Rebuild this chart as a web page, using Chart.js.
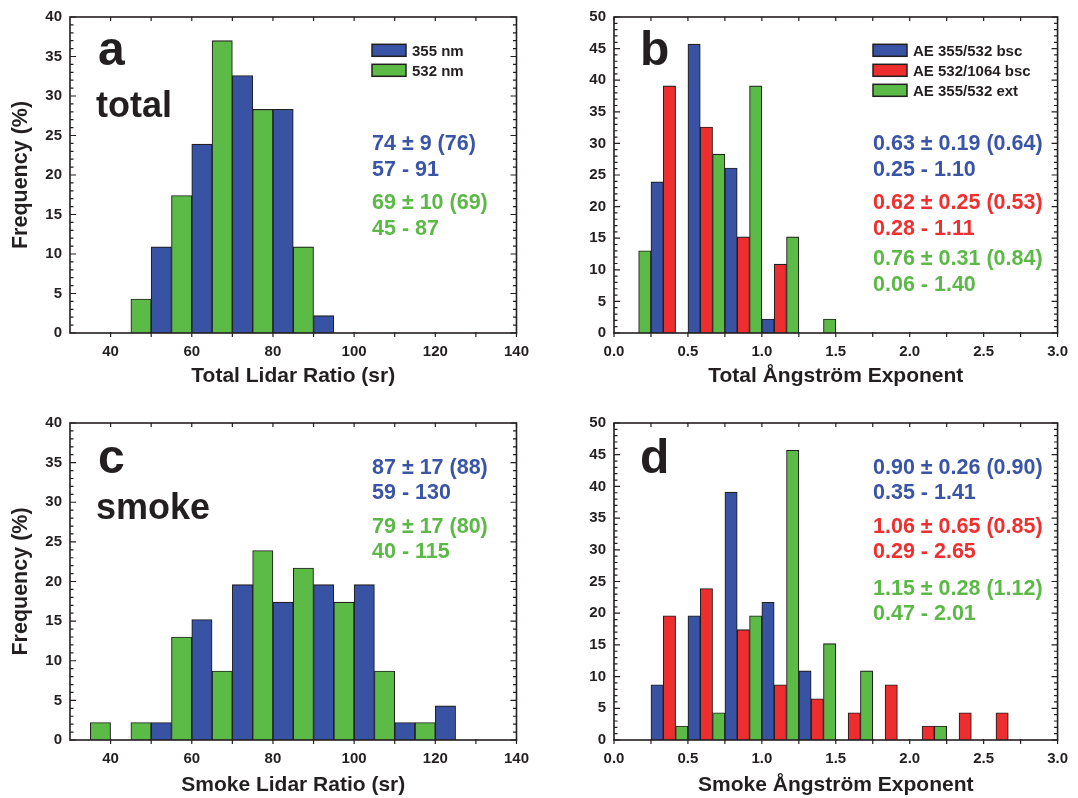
<!DOCTYPE html>
<html>
<head>
<meta charset="utf-8">
<script src="https://cdn.jsdelivr.net/npm/chart.js@4.4.1/dist/chart.umd.min.js"></script>
<style>
  body { margin: 0; background: #fff; }
  #page { position: relative; width: 1078px; height: 798px; overflow: hidden; }
  #page canvas { position: absolute; }
</style>
</head>
<body>
<div id="page">
  <canvas id="panelA" width="539" height="399" style="left:0;top:0"></canvas>
  <canvas id="panelB" width="539" height="399" style="left:539px;top:0"></canvas>
  <canvas id="panelC" width="539" height="399" style="left:0;top:399px"></canvas>
  <canvas id="panelD" width="539" height="399" style="left:539px;top:399px"></canvas>
</div>
<script>
// lidar ratio histograms, 10 sr bins (centres), frequency in %
const lrBinCenters = [35, 45, 55, 65, 75, 85, 95, 105, 115, 125];
const totalLr355 = [null, null, 10.9, 23.9, 32.6, 28.3, 2.2, null, null, null];
const totalLr532 = [null, 4.3, 17.4, 37.0, 28.3, 10.9, null, null, null, null];
const smokeLr355 = [null, null, 2.2, 15.2, 19.6, 17.4, 19.6, 19.6, 2.2, 4.3];
const smokeLr532 = [2.2, 2.2, 13.0, 8.7, 23.9, 21.7, 17.4, 8.7, 2.2, null];
const lrTicks = [40, 60, 80, 100, 120, 140];

// Angstrom exponent histograms, 0.25 bins (centres)
const aeBinCenters = [0.125, 0.375, 0.625, 0.875, 1.125, 1.375, 1.625, 1.875, 2.125, 2.375, 2.625];
const totalAeBsc355 = [null, 23.9, 45.7, 26.1, 2.2, null, null, null, null, null, null];
const totalAeBsc532 = [null, 39.1, 32.6, 15.2, 10.9, null, null, null, null, null, null];
const totalAeExt = [13.0, null, 28.3, 39.1, 15.2, 2.2, null, null, null, null, null];
const smokeAeBsc355 = [null, 8.7, 19.6, 39.1, 21.7, 10.9, null, null, null, null, null];
const smokeAeBsc532 = [null, 19.6, 23.9, 17.4, 8.7, 6.5, 4.3, 8.7, 2.2, 4.3, 4.3];
const smokeAeExt = [null, 2.2, 4.3, 19.6, 45.7, 15.2, 10.9, null, 2.2, null, null];
const aeTicks = [0, 0.5, 1, 1.5, 2, 2.5, 3];

// statistics printed in the panels: mean ± sd (median), range
const totalLrStats = [['74 ± 9 (76)', '57 - 91'], ['69 ± 10 (69)', '45 - 87']];
const smokeLrStats = [['87 ± 17 (88)', '59 - 130'], ['79 ± 17 (80)', '40 - 115']];
const totalAeStats = [['0.63 ± 0.19 (0.64)', '0.25 - 1.10'], ['0.62 ± 0.25 (0.53)', '0.28 - 1.11'], ['0.76 ± 0.31 (0.84)', '0.06 - 1.40']];
const smokeAeStats = [['0.90 ± 0.26 (0.90)', '0.35 - 1.41'], ['1.06 ± 0.65 (0.85)', '0.29 - 2.65'], ['1.15 ± 0.28 (1.12)', '0.47 - 2.01']];

const FAMILY = '"Liberation Sans", Arial, Helvetica, sans-serif';
const INK = '#231f20';
const BLUE = '#3853a4', RED = '#ee2e2e', GREEN = '#5cba47';
const TXT_BLUE = '#3a55a6', TXT_RED = '#ee3030', TXT_GREEN = '#5cb947';

Chart.defaults.font.family = FAMILY;
Chart.defaults.color = INK;

const toPoints = (xs, ys) => xs.map((x, i) => ({ x, y: ys[i] }));

const barSet = (label, color, xs, ys) => ({
  label,
  data: toPoints(xs, ys),
  backgroundColor: color,
  borderColor: INK,
  borderWidth: 1.1,
  categoryPercentage: 1,
  barPercentage: 1
});

// box round the plot area, with inward ticks on every side
const frame = {
  id: 'frame',
  afterDatasetsDraw(chart) {
    const { ctx, chartArea: a, scales: { x, y } } = chart;
    ctx.save();
    ctx.strokeStyle = INK;
    ctx.lineWidth = 1.2;
    ctx.beginPath();
    const yt = y.ticks.map(t => t.value);
    const ystep = yt[1] - yt[0];
    for (let k = 0; y.min + k * ystep / 5 <= y.max + 1e-9; k++) {
      const py = y.getPixelForValue(y.min + k * ystep / 5);
      const len = k % 5 === 0 ? 6 : 3.5;
      ctx.moveTo(a.left, py); ctx.lineTo(a.left + len, py);
      ctx.moveTo(a.right, py); ctx.lineTo(a.right - len, py);
    }
    const xt = x.ticks.map(t => t.value);
    const half = (xt[1] - xt[0]) / 2;
    let v = xt[0];
    while (v - half > x.min + 1e-9) v -= half;
    for (; v <= x.max + 1e-9; v += half) {
      const px = x.getPixelForValue(v);
      ctx.moveTo(px, a.top); ctx.lineTo(px, a.top + 4);
      ctx.moveTo(px, a.bottom - 1); ctx.lineTo(px, a.bottom + 4);
    }
    ctx.stroke();
    ctx.lineWidth = 1.6;
    ctx.strokeRect(a.left, a.top, a.right - a.left, a.bottom - a.top);
    ctx.restore();
  }
};

// panel letter, sample word, statistics and legend
const panelText = {
  id: 'panelText',
  afterDraw(chart, args, o) {
    const { ctx, chartArea: a } = chart;
    ctx.save();
    ctx.textAlign = 'left';
    ctx.textBaseline = 'alphabetic';
    ctx.fillStyle = INK;
    ctx.font = 'bold 48px ' + FAMILY;
    ctx.fillText(o.letter, a.left + o.letterPos[0], a.top + o.letterPos[1]);
    if (o.word) {
      ctx.font = 'bold 36px ' + FAMILY;
      ctx.fillText(o.word, a.left + o.wordPos[0], a.top + o.wordPos[1]);
    }
    ctx.font = 'bold 21.5px ' + FAMILY;
    o.stats.forEach((lines, i) => {
      ctx.fillStyle = o.statColors[i];
      lines.forEach((t, j) => ctx.fillText(t, a.left + o.statX, a.top + o.statY[i][j]));
    });
    if (o.legend) {
      ctx.font = 'bold 15px ' + FAMILY;
      ctx.lineWidth = 1.5;
      ctx.strokeStyle = INK;
      chart.data.datasets.forEach((ds, i) => {
        const bx = a.left + o.legend[0], by = a.top + o.legend[1] + i * 20;
        ctx.fillStyle = ds.backgroundColor;
        ctx.fillRect(bx, by, 34, 12);
        ctx.strokeRect(bx, by, 34, 12);
        ctx.fillStyle = INK;
        ctx.fillText(ds.label, bx + 40, by + 11.8);
      });
    }
    ctx.restore();
  }
};

function makePanel(id, p) {
  const tickFont = { size: 15, weight: 'bold' };
  const titleFont = { size: 21, weight: 'bold' };
  return new Chart(document.getElementById(id), {
    type: 'bar',
    data: { datasets: p.datasets },
    plugins: [frame, panelText],
    options: {
      responsive: false,
      animation: false,
      devicePixelRatio: 1,
      layout: { padding: p.pad },
      plugins: {
        legend: { display: false },
        tooltip: { enabled: false },
        panelText: p.text
      },
      scales: {
        x: {
          type: 'linear',
          offset: false,
          min: p.xMin,
          max: p.xMax,
          afterBuildTicks: s => { s.ticks = p.xTicks.map(value => ({ value })); },
          afterFit: s => { s.height = p.xHeight; },
          grid: { display: false, drawTicks: false },
          border: { display: false },
          ticks: {
            font: tickFont, color: INK, padding: 10, autoSkip: false, maxRotation: 0,
            callback: p.xFormat
          },
          title: {
            display: true, text: p.xTitle, font: titleFont, color: INK,
            padding: { top: 0, bottom: p.xTitlePad }
          }
        },
        y: {
          min: 0,
          max: p.yMax,
          afterFit: s => { s.width = p.yWidth; },
          grid: { display: false, drawTicks: false },
          border: { display: false },
          ticks: { stepSize: 5, font: tickFont, color: INK, padding: 8 },
          title: {
            display: !!p.yTitle, text: p.yTitle, font: { size: 21.5, weight: 'bold' }, color: INK,
            padding: { top: 8.5, bottom: 0 }
          }
        }
      }
    }
  });
}

const lrFormat = v => String(v);
const aeFormat = v => Number(v).toFixed(1);

makePanel('panelA', {
  datasets: [
    barSet('355 nm', BLUE, lrBinCenters, totalLr355),
    barSet('532 nm', GREEN, lrBinCenters, totalLr532)
  ],
  pad: { left: 0, top: 15, right: 16, bottom: 0 },
  yWidth: 70, xHeight: 66, xTitlePad: 10.4,
  xMin: 30, xMax: 140, xTicks: lrTicks, xFormat: lrFormat, yMax: 40,
  xTitle: 'Total Lidar Ratio (sr)', yTitle: 'Frequency (%)',
  text: {
    letter: 'a', letterPos: [28, 48], word: 'total', wordPos: [26, 100],
    stats: totalLrStats, statColors: [TXT_BLUE, TXT_GREEN],
    statX: 302, statY: [[133.3, 159], [192.3, 217.7]],
    legend: [302, 27.3]
  }
});

makePanel('panelB', {
  datasets: [
    barSet('AE 355/532 bsc', BLUE, aeBinCenters, totalAeBsc355),
    barSet('AE 532/1064 bsc', RED, aeBinCenters, totalAeBsc532),
    barSet('AE 355/532 ext', GREEN, aeBinCenters, totalAeExt)
  ],
  pad: { left: 0, top: 15, right: 11, bottom: 0 },
  yWidth: 75, xHeight: 66, xTitlePad: 10.4,
  xMin: 0, xMax: 3, xTicks: aeTicks, xFormat: aeFormat, yMax: 50,
  xTitle: 'Total Ångström Exponent', yTitle: '',
  text: {
    letter: 'b', letterPos: [26, 48],
    stats: totalAeStats, statColors: [TXT_BLUE, TXT_RED, TXT_GREEN],
    statX: 259, statY: [[133.3, 159], [192.3, 217.7], [248.3, 273.7]],
    legend: [259, 27.3]
  }
});

makePanel('panelC', {
  datasets: [
    barSet('355 nm', BLUE, lrBinCenters, smokeLr355),
    barSet('532 nm', GREEN, lrBinCenters, smokeLr532)
  ],
  pad: { left: 0, top: 24, right: 16, bottom: 0 },
  yWidth: 70, xHeight: 58, xTitlePad: 0,
  xMin: 30, xMax: 140, xTicks: lrTicks, xFormat: lrFormat, yMax: 40,
  xTitle: 'Smoke Lidar Ratio (sr)', yTitle: 'Frequency (%)',
  text: {
    letter: 'c', letterPos: [28, 49.7], word: 'smoke', wordPos: [26, 96.3],
    stats: smokeLrStats, statColors: [TXT_BLUE, TXT_GREEN],
    statX: 302, statY: [[51, 76.3], [109.7, 135.3]]
  }
});

makePanel('panelD', {
  datasets: [
    barSet('AE 355/532 bsc', BLUE, aeBinCenters, smokeAeBsc355),
    barSet('AE 532/1064 bsc', RED, aeBinCenters, smokeAeBsc532),
    barSet('AE 355/532 ext', GREEN, aeBinCenters, smokeAeExt)
  ],
  pad: { left: 0, top: 24, right: 11, bottom: 0 },
  yWidth: 75, xHeight: 58, xTitlePad: 0,
  xMin: 0, xMax: 3, xTicks: aeTicks, xFormat: aeFormat, yMax: 50,
  xTitle: 'Smoke Ångström Exponent', yTitle: '',
  text: {
    letter: 'd', letterPos: [26, 49.7],
    stats: smokeAeStats, statColors: [TXT_BLUE, TXT_RED, TXT_GREEN],
    statX: 259, statY: [[51, 76.3], [109.7, 135.3], [172, 197]]
  }
});
</script>
</body>
</html>
